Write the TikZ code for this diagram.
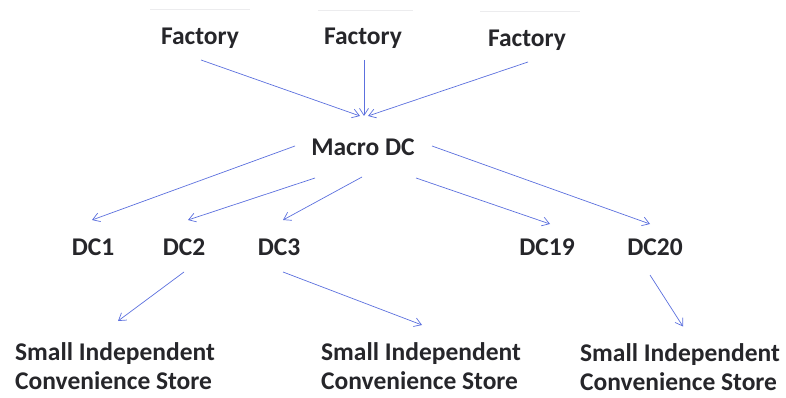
\documentclass[tikz,border=0pt]{standalone}
\usepackage{fontspec}
\setmainfont{Carlito}
\usetikzlibrary{arrows.meta,calc}
\definecolor{flow}{RGB}{92,112,222}
\definecolor{ink}{RGB}{38,38,42}
\definecolor{rule}{RGB}{236,236,238}
\begin{document}
\begin{tikzpicture}[x=1pt,y=-1pt,
  lbl/.style={font=\bfseries\fontsize{25.5}{29}\selectfont, text=ink, inner sep=0pt},
  store/.style={lbl, align=left},
  arr/.style={draw=flow, line width=0.7pt, -{Straight Barb[length=7pt,width=9pt]}},
  faint/.style={draw=rule, line width=0.8pt}]
\useasboundingbox (0,0) rectangle (786,398);
% light rules above the factories
\draw[faint] (150,9) -- (250,9);
\draw[faint] (318,10) -- (413,10);
\draw[faint] (480,11) -- (580,11);
% tiers
\node[lbl] (f1) at (200,38) {Factory};
\node[lbl] (f2) at (363,38) {Factory};
\node[lbl] (f3) at (527,40) {Factory};
\node[lbl] (mdc) at (363,147) {Macro DC};
\node[lbl] (dc1) at (93,247) {DC1};
\node[lbl] (dc2) at (184,247) {DC2};
\node[lbl] (dc3) at (279,247) {DC3};
\node[lbl] (dc19) at (547,247) {DC19};
\node[lbl] (dc20) at (655,247) {DC20};
\node[store] (s1) at (115,366) {Small Independent\\Convenience Store};
\node[store] (s2) at (421,366) {Small Independent\\Convenience Store};
\node[store] (s3) at (680,367.5) {Small Independent\\Convenience Store};
% factories to macro DC
\draw[arr] ($(f1)+(1,22)$) -- ($(mdc)+(-3,-31)$);
\draw[arr] ($(f2)+(1,22)$) -- ($(mdc)+(1,-31)$);
\draw[arr] ($(f3)+(1,22)$) -- ($(mdc)+(5,-31)$);
% macro DC to regional DCs
\draw[arr] ($(mdc)+(-68,-1)$) -- ($(dc1)+(-1,-27)$);
\draw[arr] ($(mdc)+(-48,31)$) -- ($(dc2)+(4,-27)$);
\draw[arr] ($(mdc)+(-1,30)$) -- ($(dc3)+(4,-27)$);
\draw[arr] ($(mdc)+(53,31)$) -- ($(dc19)+(3,-23)$);
\draw[arr] ($(mdc)+(69,-1)$) -- ($(dc20)+(-5,-23)$);
% regional DCs to stores
\draw[arr] ($(dc2)+(0,25)$) -- ($(s1)+(3,-45)$);
\draw[arr] ($(dc3)+(4,25)$) -- ($(s2)+(1,-41)$);
\draw[arr] ($(dc20)+(-5,28)$) -- ($(s3)+(3,-41)$);
\end{tikzpicture}
\end{document}
